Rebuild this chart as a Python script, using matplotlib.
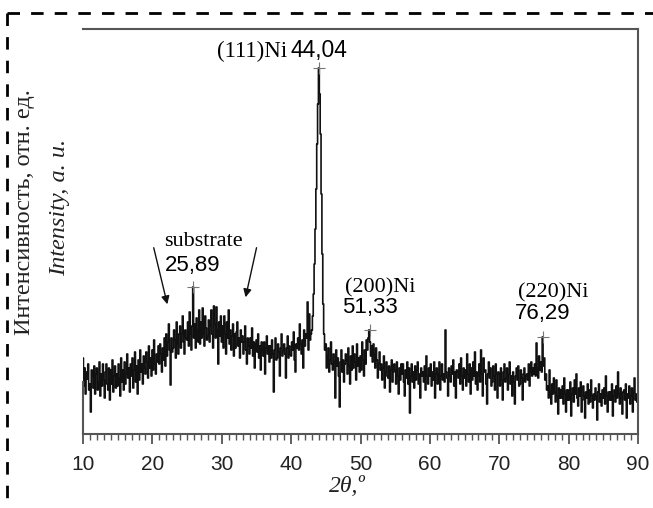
import numpy as np
import matplotlib.pyplot as plt
from matplotlib.lines import Line2D

# 2theta grid, 0.125 deg step, 10..90
two_theta = np.arange(10, 90.0001, 0.125)

# intensity (arb. units), 8 values per degree
intensity = [
    76, 48, 66, 40, 62, 55, 70, 44,        # 10
    50, 22, 64, 58, 46, 68, 40, 60,        # 11
    66, 44, 52, 72, 38, 60, 48, 70,        # 12
    54, 36, 62, 70, 50, 44, 66, 34,        # 13
    64, 50, 74, 42, 58, 68, 46, 60,        # 14
    48, 70, 56, 38, 76, 52, 64, 44,        # 15
    72, 50, 60, 80, 56, 66, 42, 70,        # 16
    58, 76, 46, 64, 82, 52, 68, 40,        # 17
    74, 54, 84, 62, 70, 50, 78, 66,        # 18
    60, 82, 72, 56, 88, 66, 76, 58,        # 19
    84, 64, 94, 70, 60, 80, 72, 88,        # 20
    70, 90, 80, 62, 86, 74, 96, 68,        # 21
    100, 78, 92, 110, 84, 49, 96, 82,      # 22
    86, 104, 94, 76, 112, 90, 80, 100,     # 23
    108, 86, 100, 118, 92, 80, 104, 96,    # 24
    94, 112, 88, 122, 100, 84, 108, 147,   # 25
    96, 110, 86, 116, 104, 92, 124, 90,    # 26
    112, 96, 126, 100, 88, 118, 106, 94,   # 27
    98, 114, 92, 108, 124, 100, 86, 128,   # 28
    110, 96, 127, 104, 70, 112, 98, 118,   # 29
    92, 108, 86, 118, 100, 80, 112, 96,    # 30
    124, 90, 104, 84, 98, 110, 78, 100,    # 31
    86, 102, 112, 88, 96, 76, 104, 92,     # 32
    98, 80, 92, 108, 84, 70, 96, 88,       # 33
    80, 96, 86, 106, 78, 92, 66, 90,       # 34
    94, 82, 100, 76, 88, 64, 92, 84,       # 35
    78, 92, 60, 86, 98, 80, 88, 72,        # 36
    88, 76, 94, 80, 42, 84, 96, 74,        # 37
    76, 90, 82, 58, 86, 100, 78, 84,       # 38
    90, 80, 56, 86, 98, 76, 88, 80,        # 39
    78, 92, 84, 102, 74, 62, 90, 86,       # 40
    96, 84, 110, 90, 80, 94, 66, 104,      # 41
    88, 100, 96, 132, 84, 120, 94, 100,    # 42
    104, 118, 140, 170, 205, 245, 290, 330,  # 43
    366, 340, 300, 240, 180, 130, 100, 84,   # 44
    90, 66, 78, 86, 62, 74, 92, 70,        # 45
    64, 80, 72, 36, 84, 68, 76, 58,        # 46
    27, 72, 84, 62, 74, 52, 70, 80,        # 47
    74, 60, 86, 68, 50, 78, 64, 88,        # 48
    66, 80, 72, 54, 90, 68, 76, 62,        # 49
    78, 64, 92, 74, 58, 84, 70, 94,        # 50
    84, 96, 104, 92, 78, 88, 72, 90,       # 51
    80, 66, 86, 74, 56, 70, 82, 64,        # 52
    70, 54, 66, 78, 46, 62, 72, 58,        # 53
    56, 68, 42, 64, 74, 52, 62, 70,        # 54
    64, 50, 72, 58, 40, 66, 54, 70,        # 55
    60, 70, 52, 38, 64, 56, 72, 50,        # 56
    66, 21, 58, 70, 52, 62, 46, 68,        # 57
    54, 64, 72, 50, 60, 36, 66, 58,        # 58
    62, 52, 68, 44, 78, 58, 50, 66,        # 59
    58, 70, 48, 62, 54, 72, 36, 60,        # 60
    66, 50, 60, 72, 44, 58, 70, 54,        # 61
    60, 52, 104, 62, 56, 38, 66, 58,       # 62
    52, 68, 60, 74, 48, 62, 36, 64,        # 63
    62, 56, 70, 50, 76, 58, 44, 66,        # 64
    56, 64, 48, 80, 60, 52, 70, 40,        # 65
    66, 54, 72, 58, 82, 50, 62, 44,        # 66
    58, 70, 52, 84, 60, 38, 76, 62,        # 67
    64, 50, 30, 60, 72, 56, 66, 48,        # 68
    52, 68, 58, 44, 70, 60, 36, 62,        # 69
    60, 48, 66, 54, 34, 62, 70, 52,        # 70
    56, 66, 44, 60, 72, 50, 58, 38,        # 71
    62, 52, 30, 58, 66, 54, 68, 48,        # 72
    50, 64, 56, 34, 60, 66, 52, 58,        # 73
    60, 54, 70, 48, 62, 72, 58, 66,        # 74
    60, 70, 58, 91, 66, 56, 78, 64,        # 75
    72, 62, 97, 68, 76, 54, 60, 44,        # 76
    48, 36, 64, 42, 30, 50, 40, 56,        # 77
    42, 32, 54, 38, 20, 46, 36, 44,        # 78
    36, 48, 30, 56, 40, 22, 44, 34,        # 79
    44, 34, 52, 18, 40, 46, 32, 54,        # 80
    40, 60, 36, 28, 46, 38, 52, 22,        # 81
    34, 48, 38, 16, 42, 36, 50, 30,        # 82
    44, 32, 54, 38, 26, 40, 34, 46,        # 83
    38, 14, 42, 50, 32, 40, 28, 44,        # 84
    36, 46, 30, 58, 38, 22, 42, 34,        # 85
    42, 34, 50, 18, 38, 44, 32, 48,        # 86
    36, 62, 40, 30, 46, 36, 20, 42,        # 87
    44, 34, 50, 16, 40, 36, 48, 30,        # 88
    38, 46, 22, 42, 56, 34, 40, 32,        # 89
    38,                                    # 90
]

# marked peaks
peak_pos = [25.89, 44.04, 51.33, 76.29]
peak_int = [147, 366, 104, 97]

serif = 'Liberation Serif'
sans = 'Liberation Sans'

fig = plt.figure(figsize=(6.53, 5.08), dpi=100)
ax = fig.add_axes([83/653, 74/508, 555/653, 405/508])

ax.plot(two_theta, intensity, color='#111111', lw=1.2, drawstyle='steps-mid')
ax.plot(peak_pos, peak_int, ls='none', marker='+', ms=8, mew=0.8, color='#777777')

ax.set_xlim(10, 90)
ax.set_ylim(0, 405)
ax.set_yticks([])
ax.set_xticks(np.arange(10, 91, 10))
ax.set_xticks(np.arange(10, 91, 1), minor=True)
ax.tick_params(axis='x', which='major', direction='out', length=7, width=1.2,
               color='#444444', pad=8, labelsize=15, labelcolor='#222222')
ax.tick_params(axis='x', which='minor', direction='out', length=4, width=1.0, color='#555555')
for lab in ax.get_xticklabels():
    lab.set_fontfamily(sans)

for s in ['top', 'right', 'bottom', 'left']:
    ax.spines[s].set_color('#555555')
    ax.spines[s].set_linewidth(1.5)
ax.spines['left'].set_bounds(0, 52)

# peak labels
ax.text(39.4, 383, '(111)Ni', family=serif, fontsize=16.5, ha='right', va='center')
ax.text(39.97, 383, '44,04', family=sans, fontsize=16.5, ha='left', va='center')
ax.text(27.4, 192, 'substrate', family=serif, fontsize=16, ha='center', va='center')
ax.text(25.86, 169, '25,89', family=sans, fontsize=16, ha='center', va='center')
ax.text(52.8, 146, '(200)Ni', family=serif, fontsize=16, ha='center', va='center')
ax.text(51.3, 126, '51,33', family=sans, fontsize=16, ha='center', va='center')
ax.text(77.8, 141, '(220)Ni', family=serif, fontsize=16, ha='center', va='center')
ax.text(76.2, 121, '76,29', family=sans, fontsize=16, ha='center', va='center')

arrow = dict(arrowstyle='-|>', color='#111111', lw=1.0, mutation_scale=12)
ax.annotate('', xy=(22.25, 127), xytext=(20.1, 189), arrowprops=arrow)
ax.annotate('', xy=(33.35, 134), xytext=(35.1, 189), arrowprops=arrow)

# axis labels
fig.text(25/653, 1 - 212/508, 'Интенсивность, отн. ед.', family=serif, fontsize=17.5,
         rotation=90, ha='center', va='center', color='#222222')
fig.text(60/653, 1 - 207/508, 'Intensity, a. u.', family=serif, style='italic',
         fontsize=17.5, rotation=90, ha='center', va='center', color='#222222')
fig.text(347/653, 1 - 486/508, '2θ,º', family=serif, style='italic', fontsize=17,
         ha='center', va='center', color='#222222')

# dashed frame
fig.add_artist(Line2D([7/653, 1], [1 - 13/508, 1 - 13/508], color='black', lw=2,
                      ls=(0, (4.5, 4)), transform=fig.transFigure))
fig.add_artist(Line2D([7/653, 7/653], [1 - 13/508, 0], color='black', lw=2,
                      ls=(0, (4.5, 4)), transform=fig.transFigure))

fig.savefig('out.png', dpi=100)
